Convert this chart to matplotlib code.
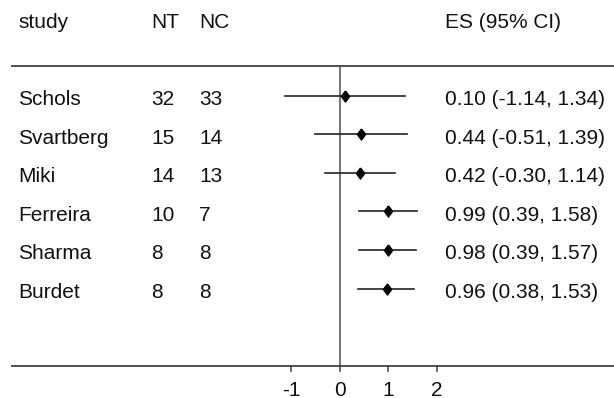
import matplotlib.pyplot as plt
import matplotlib.transforms as mtransforms

plt.rcParams['font.family'] = ['Liberation Sans', 'DejaVu Sans']

# study data
studies = ['Schols', 'Svartberg', 'Miki', 'Ferreira', 'Sharma', 'Burdet']
n_treat = [32, 15, 14, 10, 8, 8]
n_ctrl = [33, 14, 13, 7, 8, 8]
es = [0.10, 0.44, 0.42, 0.99, 0.98, 0.96]
ci_low = [-1.14, -0.51, -0.30, 0.39, 0.39, 0.38]
ci_high = [1.34, 1.39, 1.14, 1.58, 1.57, 1.53]
headers = ['study', 'NT', 'NC', 'ES (95% CI)']
xticks = [-1, 0, 1, 2]

W, H = 614, 398
fig = plt.figure(figsize=(W / 100, H / 100), dpi=100)
ax = fig.add_axes([0, 0, 1, 1])
ax.axis('off')

# pixel layout -> data limits
x0_px, unit_px = 340, 48.5
row0_px, row_px = 95.5, 38.6
ax.set_xlim(-x0_px / unit_px, (W - x0_px) / unit_px)
ax.set_ylim((H - row0_px) / row_px, -row0_px / row_px)

def py(px):
    return (px - row0_px) / row_px

trans = mtransforms.blended_transform_factory(ax.transAxes, ax.transData)
fs = 15
col_x = [18 / W, 151 / W, 199 / W, 445 / W]

# header
for h, cx in zip(headers, col_x):
    ax.text(cx, py(28.3), h, transform=trans, fontsize=fs, va='baseline', color='#111111')

# rule lines
top_y, bot_y = py(66), py(366)
ax.plot([11 / W, 1], [top_y, top_y], transform=trans, color='#3a3a3a', lw=1.25, solid_capstyle='butt')
ax.plot([11 / W, 1], [bot_y, bot_y], transform=trans, color='#3a3a3a', lw=1.25, solid_capstyle='butt')
ax.plot([0, 0], [top_y, bot_y], color='#505050', lw=1.1)

# x ticks
for t in xticks:
    ax.plot([t, t], [bot_y, py(371)], color='#3a3a3a', lw=1.1)
    ax.text(t, py(380.5), str(t) if t >= 0 else '-' + str(-t), fontsize=fs,
            ha='center', va='top', color='#111111')

# rows
diamond = [(0, 1), (0.75, 0), (0, -1), (-0.75, 0), (0, 1)]
for i, name in enumerate(studies):
    ax.plot([ci_low[i], ci_high[i]], [i, i], color='#222222', lw=1.2)
    ax.plot(es[i], i, marker=diamond, markersize=8, color='black', linestyle='none')
    yb = i + 9.5 / row_px
    ax.text(col_x[0], yb, name, transform=trans, fontsize=fs, va='baseline', color='#111111')
    ax.text(col_x[1], yb, str(n_treat[i]), transform=trans, fontsize=fs, va='baseline', color='#111111')
    ax.text(col_x[2], yb, str(n_ctrl[i]), transform=trans, fontsize=fs, va='baseline', color='#111111')
    label = f'{es[i]:.2f} ({ci_low[i]:.2f}, {ci_high[i]:.2f})'
    ax.text(col_x[3], yb, label, transform=trans, fontsize=fs, va='baseline', color='#111111')

fig.savefig('out.png', dpi=100)
